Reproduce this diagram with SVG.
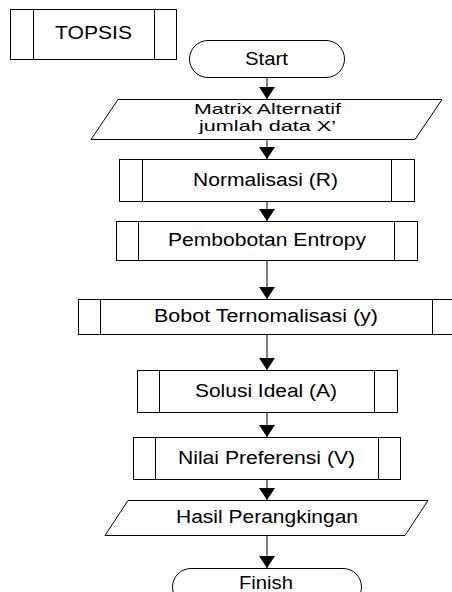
<svg xmlns="http://www.w3.org/2000/svg" width="452" height="592" viewBox="0 0 452 592">
  <style>
    .shape { fill: #ffffff; stroke: #000000; stroke-width: 1; }
    .bar { stroke: #000000; stroke-width: 1; fill: none; }
    .label { font-family: "Liberation Sans", Arial, sans-serif; font-size: 18px; fill: #000000; text-anchor: middle; }
    .label.small { font-size: 15px; }
    .flow { stroke: #000000; stroke-width: 1; fill: none; marker-end: url(#head); }
  </style>
  <defs>
    <marker id="head" markerUnits="userSpaceOnUse" viewBox="0 -8 12 16" refX="12" refY="0" markerWidth="12" markerHeight="16" orient="auto">
      <path d="M0,-8 L12,0 L0,8 z" fill="#000000"/>
    </marker>
  </defs>
  <rect width="452" height="592" fill="#ffffff"/>

  <!-- connectors -->
  <g id="connectors">
    <line class="flow" x1="267" y1="77" x2="267" y2="99"/>
    <line class="flow" x1="267" y1="139" x2="267" y2="159"/>
    <line class="flow" x1="267" y1="201" x2="267" y2="221"/>
    <line class="flow" x1="267" y1="260" x2="267" y2="299"/>
    <line class="flow" x1="267" y1="334" x2="267" y2="370"/>
    <line class="flow" x1="267" y1="412" x2="267" y2="437"/>
    <line class="flow" x1="267" y1="479" x2="267" y2="500"/>
    <line class="flow" x1="267" y1="535" x2="267" y2="568"/>
  </g>

  <!-- title process box -->
  <g id="topsis">
    <rect class="shape" x="10.5" y="9.5" width="166" height="50"/>
    <line class="bar" x1="33.5" y1="9.5" x2="33.5" y2="59.5"/>
    <line class="bar" x1="154.5" y1="9.5" x2="154.5" y2="59.5"/>
    <text class="label" x="93.5" y="39" textLength="77" lengthAdjust="spacingAndGlyphs">TOPSIS</text>
  </g>

  <g id="start">
    <rect class="shape" x="189.5" y="40.5" width="155" height="37" rx="18.5" ry="18.5"/>
    <text class="label" x="266.5" y="65" textLength="43" lengthAdjust="spacingAndGlyphs">Start</text>
  </g>

  <g id="matrix">
    <polygon class="shape" points="118,99.5 442,99.5 415,139.5 91,139.5"/>
    <text class="label small" x="267.5" y="114" textLength="147" lengthAdjust="spacingAndGlyphs">Matrix Alternatif</text>
    <text class="label small" x="267.5" y="131" textLength="137" lengthAdjust="spacingAndGlyphs">jumlah data X’</text>
  </g>

  <g id="normalisasi">
    <rect class="shape" x="119.5" y="159.5" width="295" height="42"/>
    <line class="bar" x1="142.5" y1="159.5" x2="142.5" y2="201.5"/>
    <line class="bar" x1="391.5" y1="159.5" x2="391.5" y2="201.5"/>
    <text class="label" x="265.5" y="186" textLength="145" lengthAdjust="spacingAndGlyphs">Normalisasi (R)</text>
  </g>

  <g id="pembobotan">
    <rect class="shape" x="116.5" y="221.5" width="301" height="39"/>
    <line class="bar" x1="138.5" y1="221.5" x2="138.5" y2="260.5"/>
    <line class="bar" x1="394.5" y1="221.5" x2="394.5" y2="260.5"/>
    <text class="label" x="267" y="246" textLength="198" lengthAdjust="spacingAndGlyphs">Pembobotan Entropy</text>
  </g>

  <g id="bobot">
    <rect class="shape" x="78.5" y="299.5" width="376" height="35"/>
    <line class="bar" x1="100.5" y1="299.5" x2="100.5" y2="334.5"/>
    <line class="bar" x1="432.5" y1="299.5" x2="432.5" y2="334.5"/>
    <text class="label" x="266" y="322" textLength="224" lengthAdjust="spacingAndGlyphs">Bobot Ternomalisasi (y)</text>
  </g>

  <g id="solusi">
    <rect class="shape" x="137.5" y="370.5" width="260" height="42"/>
    <line class="bar" x1="159.5" y1="370.5" x2="159.5" y2="412.5"/>
    <line class="bar" x1="374.5" y1="370.5" x2="374.5" y2="412.5"/>
    <text class="label" x="266" y="397" textLength="142" lengthAdjust="spacingAndGlyphs">Solusi Ideal (A)</text>
  </g>

  <g id="preferensi">
    <rect class="shape" x="133.5" y="437.5" width="267" height="42"/>
    <line class="bar" x1="155.5" y1="437.5" x2="155.5" y2="479.5"/>
    <line class="bar" x1="378.5" y1="437.5" x2="378.5" y2="479.5"/>
    <text class="label" x="266.5" y="464" textLength="177" lengthAdjust="spacingAndGlyphs">Nilai Preferensi (V)</text>
  </g>

  <g id="hasil">
    <polygon class="shape" points="128,500.5 428,500.5 405,535.5 105,535.5"/>
    <text class="label" x="267" y="523" textLength="182" lengthAdjust="spacingAndGlyphs">Hasil Perangkingan</text>
  </g>

  <g id="finish">
    <rect class="shape" x="172.5" y="568.5" width="189" height="37" rx="18.5" ry="18.5"/>
    <text class="label" x="266" y="589" textLength="54" lengthAdjust="spacingAndGlyphs">Finish</text>
  </g>
</svg>
